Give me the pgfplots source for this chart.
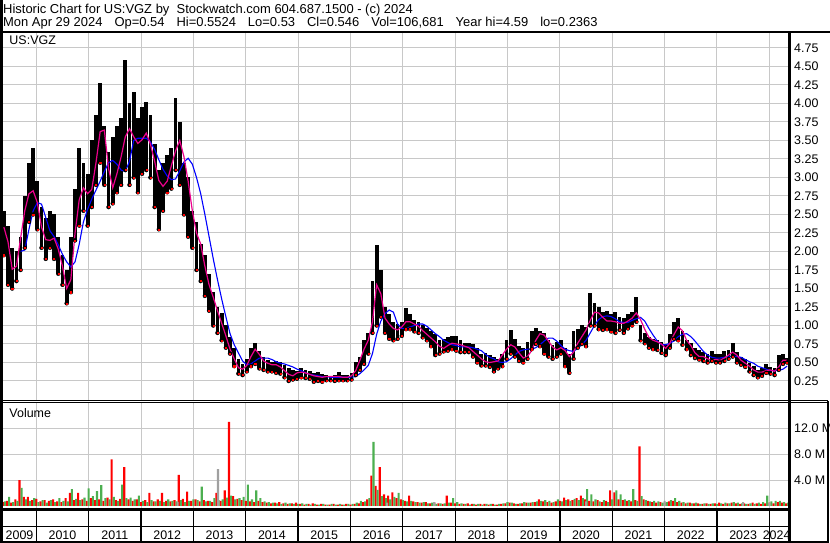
\documentclass[border=0pt]{standalone}
\usepackage{fontspec}
\setmainfont{Liberation Sans}
\usepackage{pgfplots}
\usepackage{pgfplotstable}
\pgfplotsset{compat=1.18}
\definecolor{gridgray}{RGB}{200,200,200}
\definecolor{volgreen}{RGB}{76,175,80}
\definecolor{volgray}{RGB}{160,160,160}

\pgfplotstableread{
t lo hi m b
2009.38 1.95 2.55 2.33 nan
2009.46 1.55 2.35 2.13 nan
2009.54 1.50 2.05 1.76 nan
2009.62 1.60 2.00 1.80 nan
2009.70 1.75 2.20 2.18 2.00
2009.78 2.05 2.75 2.55 2.02
2009.86 2.40 3.20 2.78 2.30
2009.94 2.50 3.40 2.82 2.55
2010.02 2.30 2.95 2.66 2.66
2010.10 2.05 2.60 2.33 2.64
2010.18 1.90 2.45 2.16 2.46
2010.26 2.05 2.55 2.15 2.28
2010.34 1.90 2.50 2.18 2.20
2010.42 1.70 2.20 2.03 2.09
2010.50 1.55 1.95 1.80 1.96
2010.58 1.30 1.75 1.50 1.86
2010.66 1.45 2.20 1.62 1.79
2010.74 2.15 2.85 2.25 1.86
2010.82 2.35 3.40 2.70 2.10
2010.90 2.55 3.20 2.86 2.40
2010.98 2.35 3.05 2.78 2.57
2011.06 2.60 3.50 2.84 2.71
2011.14 2.90 3.85 3.20 2.83
2011.22 3.20 4.28 3.62 2.95
2011.30 2.90 3.70 3.64 3.08
2011.38 2.60 3.35 3.12 3.20
2011.46 2.65 3.55 2.86 3.23
2011.54 2.80 3.70 3.05 3.18
2011.62 2.90 3.80 3.28 3.10
2011.70 3.10 4.59 3.55 3.08
2011.78 2.90 4.00 3.66 3.22
2011.86 3.00 4.15 3.55 3.50
2011.94 2.80 3.80 3.46 3.53
2012.02 3.05 3.95 3.51 3.53
2012.10 3.10 4.02 3.60 3.53
2012.18 3.00 3.85 3.45 3.48
2012.26 2.60 3.45 3.22 3.38
2012.34 2.30 3.10 2.96 3.24
2012.42 2.55 3.20 2.88 3.11
2012.50 2.80 3.30 2.95 3.02
2012.58 2.85 3.40 3.16 2.97
2012.66 3.10 4.08 3.36 2.98
2012.74 2.90 3.75 3.50 3.09
2012.82 2.50 3.20 3.28 3.21
2012.90 2.20 3.00 2.95 3.26
2012.98 2.05 2.55 2.55 3.18
2013.06 1.75 2.40 2.25 3.00
2013.14 1.60 2.10 2.10 2.78
2013.22 1.40 1.95 1.80 2.50
2013.30 1.20 1.70 1.55 2.20
2013.38 1.00 1.45 1.38 1.90
2013.46 0.90 1.25 1.20 1.62
2013.54 0.80 1.17 1.03 1.36
2013.62 0.70 1.00 0.86 1.12
2013.70 0.62 0.85 0.68 0.89
2013.78 0.45 0.70 0.55 0.74
2013.86 0.35 0.55 0.43 0.63
2013.94 0.33 0.48 0.41 0.52
2014.02 0.38 0.55 0.46 0.47
2014.10 0.45 0.70 0.58 0.48
2014.18 0.48 0.77 0.68 0.52
2014.26 0.42 0.65 0.61 0.56
2014.34 0.40 0.58 0.52 0.56
2014.42 0.38 0.53 0.49 0.56
2014.50 0.38 0.50 0.47 0.54
2014.58 0.36 0.52 0.47 0.51
2014.66 0.35 0.50 0.44 0.49
2014.74 0.30 0.46 0.39 0.48
2014.82 0.25 0.42 0.34 0.46
2014.90 0.27 0.40 0.32 0.44
2014.98 0.28 0.38 0.36 0.41
2015.06 0.30 0.42 0.37 0.39
2015.14 0.29 0.40 0.36 0.36
2015.22 0.28 0.38 0.34 0.34
2015.30 0.24 0.36 0.32 0.33
2015.38 0.25 0.37 0.31 0.32
2015.46 0.24 0.35 0.30 0.31
2015.54 0.26 0.33 0.31 0.31
2015.62 0.26 0.32 0.31 0.30
2015.70 0.25 0.33 0.31 0.30
2015.78 0.26 0.37 0.31 0.30
2015.86 0.26 0.33 0.30 0.30
2015.94 0.26 0.33 0.30 0.30
2016.02 0.27 0.36 0.32 0.30
2016.10 0.33 0.50 0.39 0.31
2016.18 0.40 0.58 0.53 0.35
2016.26 0.48 0.80 0.68 0.40
2016.34 0.62 0.90 0.80 0.46
2016.42 0.90 1.60 1.05 0.62
2016.50 1.00 2.09 1.55 0.88
2016.58 1.12 1.75 1.43 1.06
2016.66 0.90 1.25 1.10 1.16
2016.74 0.82 1.15 1.02 1.21
2016.82 0.80 1.05 0.96 1.18
2016.90 0.82 1.02 0.94 1.02
2016.98 0.86 1.05 0.98 0.96
2017.06 0.95 1.24 1.05 0.96
2017.14 0.95 1.15 1.05 0.98
2017.22 0.92 1.08 1.02 1.00
2017.30 0.90 1.05 0.99 1.02
2017.38 0.84 1.00 0.93 1.02
2017.46 0.80 0.96 0.88 0.99
2017.54 0.72 0.92 0.83 0.94
2017.62 0.60 0.88 0.78 0.89
2017.70 0.62 0.80 0.72 0.85
2017.78 0.65 0.82 0.69 0.80
2017.86 0.66 0.84 0.73 0.77
2017.94 0.68 0.86 0.76 0.74
2018.02 0.66 0.86 0.75 0.73
2018.10 0.64 0.80 0.74 0.71
2018.18 0.64 0.76 0.72 0.71
2018.26 0.64 0.76 0.70 0.71
2018.34 0.58 0.75 0.65 0.70
2018.42 0.50 0.70 0.60 0.68
2018.50 0.46 0.62 0.55 0.66
2018.58 0.46 0.63 0.51 0.61
2018.66 0.44 0.60 0.50 0.57
2018.74 0.38 0.58 0.51 0.55
2018.82 0.42 0.55 0.52 0.51
2018.90 0.45 0.62 0.60 0.50
2018.98 0.55 0.80 0.68 0.51
2019.06 0.62 0.94 0.74 0.55
2019.14 0.58 0.82 0.71 0.60
2019.22 0.52 0.72 0.63 0.65
2019.30 0.50 0.70 0.56 0.67
2019.38 0.55 0.78 0.58 0.68
2019.46 0.68 0.92 0.66 0.68
2019.54 0.75 0.97 0.80 0.70
2019.62 0.72 0.92 0.89 0.74
2019.70 0.62 0.90 0.87 0.79
2019.78 0.58 0.80 0.79 0.83
2019.86 0.55 0.74 0.71 0.83
2019.94 0.58 0.78 0.67 0.79
2020.02 0.62 0.80 0.70 0.73
2020.10 0.45 0.70 0.66 0.68
2020.18 0.36 0.62 0.58 0.66
2020.26 0.55 0.92 0.64 0.65
2020.34 0.70 0.95 0.76 0.69
2020.42 0.75 1.00 0.85 0.74
2020.50 0.72 0.98 0.94 0.80
2020.58 1.00 1.44 1.07 0.90
2020.66 1.00 1.30 1.18 1.00
2020.74 0.95 1.25 1.17 1.08
2020.82 0.94 1.18 1.11 1.12
2020.90 0.95 1.20 1.06 1.13
2020.98 0.92 1.15 1.06 1.12
2021.06 0.90 1.18 1.05 1.09
2021.14 0.94 1.12 1.03 1.05
2021.22 0.90 1.10 1.03 1.04
2021.30 0.96 1.15 1.06 1.04
2021.38 1.00 1.18 1.10 1.07
2021.46 1.05 1.39 1.17 1.09
2021.54 0.80 1.00 1.08 1.11
2021.62 0.76 0.90 0.95 1.06
2021.70 0.70 0.85 0.84 0.96
2021.78 0.68 0.82 0.80 0.87
2021.86 0.67 0.80 0.78 0.79
2021.94 0.63 0.78 0.75 0.74
2022.02 0.60 0.74 0.69 0.74
2022.10 0.70 0.88 0.76 0.76
2022.18 0.82 1.05 0.88 0.79
2022.26 0.80 1.10 0.98 0.85
2022.34 0.74 0.92 0.93 0.88
2022.42 0.68 0.80 0.80 0.89
2022.50 0.60 0.76 0.73 0.85
2022.58 0.56 0.70 0.63 0.79
2022.66 0.54 0.67 0.58 0.72
2022.74 0.52 0.64 0.58 0.65
2022.82 0.50 0.62 0.55 0.60
2022.90 0.52 0.65 0.53 0.57
2022.98 0.50 0.62 0.54 0.56
2023.06 0.50 0.62 0.53 0.56
2023.14 0.52 0.66 0.56 0.57
2023.22 0.55 0.67 0.60 0.58
2023.30 0.58 0.76 0.64 0.59
2023.38 0.50 0.64 0.60 0.58
2023.46 0.47 0.58 0.53 0.57
2023.54 0.44 0.55 0.49 0.54
2023.62 0.38 0.49 0.45 0.51
2023.70 0.33 0.45 0.40 0.49
2023.78 0.30 0.40 0.37 0.45
2023.86 0.32 0.43 0.37 0.43
2023.94 0.36 0.48 0.39 0.41
2024.02 0.35 0.44 0.40 0.39
2024.10 0.33 0.42 0.38 0.39
2024.18 0.40 0.60 0.44 0.39
2024.26 0.48 0.62 0.53 0.41
2024.34 0.50 0.56 0.53 0.45
}\price

\pgfplotstableread{
t r g
2009.38 0.6 0.7
2009.46 0.8 1.4
2009.54 0.5 0.6
2009.62 1.0 0.8
2009.70 4.0 2.8
2009.78 1.4 1.0
2009.86 1.4 0.8
2009.94 0.9 1.2
2010.02 1.1 0.6
2010.10 0.7 0.9
2010.18 0.9 0.5
2010.26 0.8 0.9
2010.34 1.0 0.6
2010.42 0.7 1.2
2010.50 0.6 0.8
2010.58 1.2 0.7
2010.66 2.0 2.6
2010.74 0.9 1.1
2010.82 2.0 0.9
2010.90 1.0 1.3
2010.98 0.8 2.7
2011.06 1.2 1.5
2011.14 0.9 2.3
2011.22 1.0 3.2
2011.30 0.8 1.2
2011.38 1.3 1.0
2011.46 7.2 1.4
2011.54 0.9 0.8
2011.62 1.1 3.3
2011.70 6.0 1.2
2011.78 1.0 1.3
2011.86 0.8 1.0
2011.94 1.0 1.6
2012.02 0.6 0.8
2012.10 0.9 0.6
2012.18 2.0 0.9
2012.26 0.7 0.7
2012.34 1.0 0.8
2012.42 2.0 0.6
2012.50 0.8 1.0
2012.58 0.7 0.8
2012.66 0.9 0.7
2012.74 4.8 0.9
2012.82 1.1 0.6
2012.90 2.2 0.8
2012.98 0.8 1.0
2013.06 1.0 0.9
2013.14 0.7 3.0
2013.22 0.9 0.7
2013.30 0.8 0.8
2013.38 0.6 1.2
2013.46 2.0 0.9
2013.54 0.8 1.0
2013.62 2.4 1.3
2013.70 13.0 1.6
2013.78 1.5 1.0
2013.86 1.1 1.2
2013.94 0.9 1.4
2014.02 0.8 3.3
2014.10 0.7 1.0
2014.18 0.6 2.4
2014.26 0.8 1.2
2014.34 0.6 0.7
2014.42 0.5 0.6
2014.50 0.4 0.5
2014.58 0.5 0.4
2014.66 0.6 0.3
2014.74 0.4 0.5
2014.82 0.3 0.4
2014.90 0.4 0.3
2014.98 0.5 0.3
2015.06 0.3 0.4
2015.14 0.2 0.3
2015.22 0.3 0.2
2015.30 0.4 0.3
2015.38 0.2 0.2
2015.46 0.3 0.3
2015.54 0.2 0.2
2015.62 0.2 0.3
2015.70 0.3 0.2
2015.78 0.2 0.3
2015.86 0.2 0.2
2015.94 0.3 0.3
2016.02 0.2 0.3
2016.10 0.3 0.5
2016.18 0.4 0.8
2016.26 0.6 0.7
2016.34 1.0 1.2
2016.42 4.7 9.9
2016.50 3.1 2.5
2016.58 6.0 1.5
2016.66 1.8 1.2
2016.74 1.6 1.0
2016.82 2.1 1.4
2016.90 1.2 2.0
2016.98 1.0 0.9
2017.06 0.8 0.7
2017.14 1.6 0.8
2017.22 0.7 0.6
2017.30 0.6 0.5
2017.38 0.5 0.6
2017.46 0.6 0.4
2017.54 0.4 0.5
2017.62 0.5 0.3
2017.70 0.4 0.4
2017.78 0.3 0.4
2017.86 1.6 0.5
2017.94 0.5 1.2
2018.02 0.4 0.6
2018.10 0.3 0.4
2018.18 0.3 0.3
2018.26 0.4 0.2
2018.34 0.3 0.3
2018.42 0.2 0.3
2018.50 0.3 0.2
2018.58 0.3 0.3
2018.66 0.2 0.3
2018.74 0.3 0.2
2018.82 0.2 0.3
2018.90 0.3 0.4
2018.98 0.4 0.6
2019.06 0.5 0.5
2019.14 0.4 0.3
2019.22 0.3 0.4
2019.30 0.4 0.6
2019.38 0.5 0.5
2019.46 0.5 0.6
2019.54 0.6 0.7
2019.62 1.0 0.8
2019.70 0.7 0.9
2019.78 0.6 0.8
2019.86 0.5 0.6
2019.94 0.7 1.0
2020.02 0.8 0.7
2020.10 1.3 0.9
2020.18 1.0 0.8
2020.26 0.9 1.1
2020.34 1.2 0.9
2020.42 1.6 1.2
2020.50 1.0 2.6
2020.58 0.8 1.8
2020.66 0.7 1.0
2020.74 0.9 0.7
2020.82 0.6 0.9
2020.90 0.8 0.6
2020.98 2.4 1.0
2021.06 2.1 2.4
2021.14 1.0 1.8
2021.22 0.9 1.0
2021.30 0.8 0.9
2021.38 0.7 2.6
2021.46 0.9 0.8
2021.54 9.2 1.5
2021.62 1.0 0.9
2021.70 0.8 0.7
2021.78 0.6 0.8
2021.86 0.5 0.7
2021.94 0.6 0.5
2022.02 0.5 0.6
2022.10 0.7 0.9
2022.18 0.8 1.2
2022.26 0.6 0.8
2022.34 0.5 0.6
2022.42 0.4 0.5
2022.50 0.5 0.4
2022.58 0.4 0.5
2022.66 0.4 0.3
2022.74 0.3 0.4
2022.82 0.4 0.3
2022.90 0.3 0.4
2022.98 0.4 0.3
2023.06 0.5 0.4
2023.14 0.3 0.5
2023.22 0.4 0.4
2023.30 0.5 0.6
2023.38 0.4 0.5
2023.46 0.3 0.4
2023.54 0.4 0.3
2023.62 0.3 0.4
2023.70 0.5 0.3
2023.78 0.4 0.5
2023.86 0.3 0.6
2023.94 0.4 1.6
2024.02 0.5 0.7
2024.10 0.4 0.8
2024.18 0.6 0.8
2024.26 0.5 0.6
2024.34 0.4 0.5
}\volume

\begin{document}
\begin{tikzpicture}[x=1bp,y=1bp]
\path[use as bounding box] (0,0) rectangle (830,543);

\pgfplotsset{
  panel/.style={scale only axis, anchor=south west,
    xmin=2009.364, xmax=2024.376,
    xtick={2010,2011,2012,2013,2014,2015,2016,2017,2018,2019,2020,2021,2022,2023,2024},
    xticklabels={},
    axis line style={draw=none}, major tick length=0pt,
    grid=major, grid style={gridgray, line width=1bp},
    tick label style={font=\fontsize{12.5}{14}\selectfont},
    yticklabel pos=right,
    yticklabel style={anchor=west, inner sep=0pt, xshift=5bp},
    /pgf/number format/assume math mode=true},
}

% ---------- price panel ----------
\begin{axis}[panel, at={(3bp,142.5bp)}, width=786bp, height=368.5bp,
  ymin=-0.0135, ymax=4.966,
  ytick={0.25,0.5,0.75,1,1.25,1.5,1.75,2,2.25,2.5,2.75,3,3.25,3.5,3.75,4,4.25,4.5,4.75},
  yticklabel style={/pgf/number format/fixed, /pgf/number format/fixed zerofill, /pgf/number format/precision=2},
  unbounded coords=jump]
\addplot[black, only marks, mark=none,
  error bars/.cd, y dir=plus, y explicit, error mark=none,
  error bar style={draw=black, line width=3.8bp}]
  table[x=t, y=lo, y error plus expr=\thisrow{hi}-\thisrow{lo}] {\price};
\addplot[only marks, mark=square*, mark size=0.55bp, red, mark options={draw=none, fill=red}]
  table[x=t, y=lo] {\price};
\addplot[blue, line width=1.1bp, mark=none] table[x=t, y=b] {\price};
\addplot[magenta, line width=1.2bp, mark=none] table[x=t, y=m] {\price};
\end{axis}

% ---------- volume panel ----------
\begin{axis}[panel, at={(3bp,33bp)}, width=786bp, height=107.5bp,
  ymin=-0.63, ymax=16.0, ytick={4,8,12}, yticklabels={4.0 M,8.0 M,12.0 M}]
\addplot[ybar, bar width=2.1bp, bar shift=-1.05bp, fill=red, draw=none] table[x=t, y=r] {\volume};
\addplot[ybar, bar width=2.1bp, bar shift=1.05bp, fill=volgreen, draw=none] table[x=t, y=g] {\volume};
\addplot[ybar, bar width=2.1bp, bar shift=0bp, fill=volgray, draw=none] coordinates {
  (2012.70,0.6) (2013.47,5.7) (2016.70,0.5) (2017.60,0.6) (2020.50,0.7) (2022.00,0.8) (2023.50,0.6) (2024.00,0.5)};
\end{axis}

% ---------- year strip ----------
\begin{axis}[scale only axis, anchor=south west, at={(3bp,1bp)}, width=786bp, height=32bp,
  xmin=2009.364, xmax=2024.376, ymin=0, ymax=1,
  xtick={2010,2011,2012,2013,2014,2015,2016,2017,2018,2019,2020,2021,2022,2023,2024},
  xticklabels={}, ytick=\empty,
  axis line style={draw=none}, major tick length=0pt,
  xmajorgrids, grid style={black, line width=1.3bp}, clip=false]
\foreach \yr/\pos in {2009/2009.68,2010/2010.5,2011/2011.5,2012/2012.5,2013/2013.5,2014/2014.5,2015/2015.5,2016/2016.5,2017/2017.5,2018/2018.5,2019/2019.5,2020/2020.5,2021/2021.5,2022/2022.5,2023/2023.5,2024/2024.14}{
  \edef\temp{\noexpand\node[anchor=base, inner sep=0pt, font=\noexpand\fontsize{12.5}{14}\noexpand\selectfont] at (axis cs:\pos,0.09) {\yr};}
  \temp
}
\end{axis}

% ---------- frame ----------
\fill[black] (0,0) rectangle (2.5,543);
\fill[black] (0,509.8) rectangle (830,512);
\fill[black] (788,0) rectangle (790.5,511);
\draw[black, line width=1bp] (0,142.3) -- (828,142.3);
\draw[black, line width=1bp] (0,140.3) -- (828,140.3);
\fill[black] (0,32) rectangle (790,34.5);
\fill[black] (0,15.5) rectangle (790,17);
\fill[black] (0,0) rectangle (828.5,2);
\fill[black] (827,0) rectangle (828.5,142.3);

% ---------- texts ----------
\node[anchor=base west, inner sep=0pt, font=\fontsize{13}{15}\selectfont] at (3,529.7)
  {Historic Chart for US:VGZ by\ \ Stockwatch.com 604.687.1500 - (c) 2024};
\node[anchor=base west, inner sep=0pt, font=\fontsize{13}{15}\selectfont] at (3,516.3)
  {Mon Apr 29 2024\hspace{12bp}Op=0.54\hspace{12bp}Hi=0.5524\hspace{12bp}Lo=0.53\hspace{12bp}Cl=0.546\hspace{12bp}Vol=106,681\hspace{12bp}Year hi=4.59\hspace{12bp}lo=0.2363};
\node[anchor=base west, inner sep=0pt, font=\fontsize{12.5}{14}\selectfont] at (9.3,498) {US:VGZ};
\node[anchor=base west, inner sep=0pt, font=\fontsize{12.5}{14}\selectfont] at (9.3,125) {Volume};
\end{tikzpicture}
\end{document}
